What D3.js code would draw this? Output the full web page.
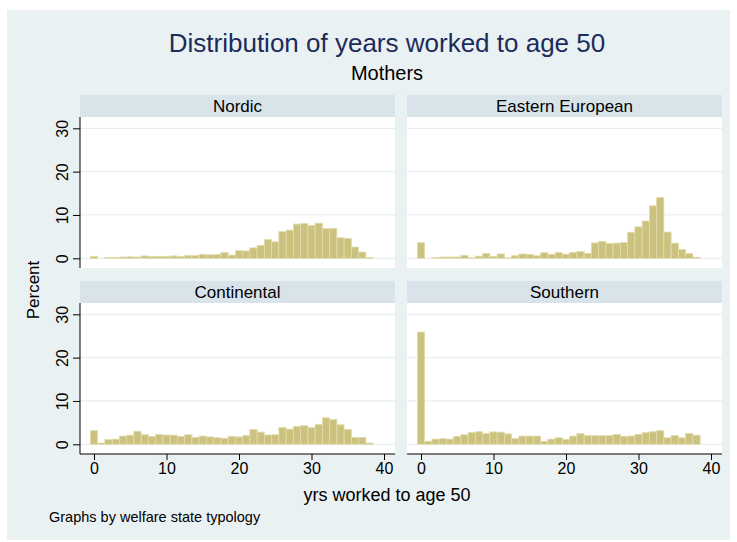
<!DOCTYPE html>
<html lang="en">
  <head>
    <meta charset="UTF-8" />
    <title>Distribution of years worked to age 50</title>
    <script src="https://cdn.jsdelivr.net/npm/d3@7"></script>
    <style>
      body { margin: 0; background: #ffffff; }
      text { font-family: "Liberation Sans", Arial, sans-serif; }
    </style>
  </head>

  <body>
    <script>

      // years worked to age 50 (one bar per year)
      var years = [0, 1, 2, 3, 4, 5, 6, 7, 8, 9, 10, 11, 12, 13, 14, 15, 16, 17, 18, 19,
                   20, 21, 22, 23, 24, 25, 26, 27, 28, 29, 30, 31, 32, 33, 34, 35, 36, 37, 38];

      // percent of mothers
      var nordic = [0.45, 0, 0.15, 0.2, 0.3, 0.35, 0.3, 0.55, 0.45, 0.45, 0.45, 0.55, 0.4, 0.65, 0.65, 0.9, 0.8, 0.9, 1.35, 0.75,
                    1.75, 1.7, 2.4, 3.0, 4.3, 3.8, 6.15, 6.5, 7.9, 8.0, 7.55, 8.1, 6.85, 6.85, 4.75, 4.6, 2.6, 1.45, 0.2];
      var eastern = [3.6, 0, 0.15, 0.3, 0.3, 0.3, 0.7, 0.1, 0.5, 1.1, 0.4, 1.0, 0.1, 0.6, 1.0, 0.9, 0.6, 1.3, 0.9, 1.3,
                     0.95, 1.35, 1.55, 1.15, 3.55, 3.9, 3.45, 3.5, 3.65, 6.0, 7.25, 8.6, 12.1, 14.0, 6.05, 3.5, 2.05, 1.1, 0.25];
      var continental = [3.15, 0.3, 1.1, 1.2, 1.9, 2.1, 3.0, 2.2, 1.8, 2.3, 2.15, 2.1, 1.8, 2.2, 1.6, 1.9, 1.7, 1.5, 1.4, 1.85,
                         1.7, 2.0, 3.4, 2.8, 2.15, 2.2, 3.9, 3.5, 4.1, 4.3, 3.9, 4.6, 6.1, 5.7, 4.5, 3.4, 1.6, 1.6, 0.3];
      var southern = [25.9, 0.7, 1.2, 1.3, 1.2, 1.8, 2.2, 2.7, 2.9, 2.5, 2.85, 2.8, 2.4, 1.3, 1.9, 1.9, 1.9, 0.7, 1.2, 1.5,
                      1.15, 1.9, 2.5, 2.0, 2.0, 2.0, 2.0, 2.3, 1.85, 1.9, 2.3, 2.7, 2.9, 3.15, 1.5, 2.0, 1.5, 2.5, 2.1];

      var groups = ["Nordic", "Eastern European", "Continental", "Southern"];
      var series = [nordic, eastern, continental, southern];

      var xTicks = [0, 10, 20, 30, 40];
      var yTicks = [0, 10, 20, 30];

      var w = 737,
          h = 542;

      // panel layout
      var colLeft = [80, 407],
          rowTop = [95, 281],
          panelW = 315,
          stripH = 22,
          plotH = 151;

      var barFill = "#cbc27f",
          barLine = "#e2dcab",
          gridCol = "#e7eff1";

      var svg = d3.select("body").append("svg")
         .attr("width", w)
         .attr("height", h);

      svg.append("rect")
         .attr("x", 7)
         .attr("y", 10)
         .attr("width", 723)
         .attr("height", 530)
         .attr("fill", "#eaf1f3");

      groups.forEach(function(name, i) {
        var col = i % 2,
            row = Math.floor(i / 2);
        var left = colLeft[col],
            top = rowTop[row],
            plotTop = top + stripH;

        var xScale = d3.scaleLinear()
                       .domain([0, 40])
                       .range([left + 14, left + 304]);
        var yScale = d3.scaleLinear()
                       .domain([0, 30])
                       .range([plotTop + 141.3, plotTop + 11.3]);

        // strip
        svg.append("rect")
           .attr("x", left)
           .attr("y", top)
           .attr("width", panelW)
           .attr("height", stripH)
           .attr("fill", "#d8e4ea");
        svg.append("text")
           .attr("x", left + panelW / 2)
           .attr("y", top + 17)
           .attr("text-anchor", "middle")
           .attr("font-size", 17)
           .text(name);

        // plot region
        svg.append("rect")
           .attr("x", left)
           .attr("y", plotTop)
           .attr("width", panelW)
           .attr("height", plotH)
           .attr("fill", "#ffffff");

        svg.append("g")
           .selectAll("line")
           .data(yTicks)
           .enter()
           .append("line")
           .attr("x1", left)
           .attr("x2", left + panelW)
           .attr("y1", function(d) { return yScale(d); })
           .attr("y2", function(d) { return yScale(d); })
           .attr("stroke", gridCol)
           .attr("stroke-width", 1.2);

        var data = years.map(function(y, k) { return { yr: y, pct: series[i][k] }; })
                        .filter(function(d) { return d.pct > 0; });

        svg.append("g")
           .selectAll("rect")
           .data(data)
           .enter()
           .append("rect")
           .attr("x", function(d) { return xScale(d.yr - 0.5); })
           .attr("y", function(d) { return yScale(d.pct); })
           .attr("width", function(d) { return xScale(d.yr + 0.5) - xScale(d.yr - 0.5); })
           .attr("height", function(d) { return yScale(0) - yScale(d.pct); })
           .attr("fill", barFill)
           .attr("stroke", barLine)
           .attr("stroke-width", 0.8);

        // y axis on the left column
        if (col == 0) {
          var yAxis = d3.axisLeft(yScale)
                        .tickValues(yTicks)
                        .tickSize(7)
                        .tickSizeOuter(0);
          var gy = svg.append("g")
             .attr("transform", "translate(" + left + ",0)")
             .call(yAxis);
          gy.select(".domain").remove();
          gy.selectAll("text")
            .attr("x", 0)
            .attr("y", -12)
            .attr("dy", null)
            .attr("text-anchor", "middle")
            .attr("transform", "rotate(-90)")
            .attr("font-size", 16)
            .attr("font-family", null)
            .attr("fill", "#000");
          svg.append("line")
             .attr("x1", left)
             .attr("x2", left)
             .attr("y1", plotTop)
             .attr("y2", plotTop + plotH)
             .attr("stroke", "#000");
        }

        // x axis on the bottom row
        if (row == 1) {
          var xAxis = d3.axisBottom(xScale)
                        .tickValues(xTicks)
                        .tickSize(6)
                        .tickPadding(3)
                        .tickSizeOuter(0);
          var gx = svg.append("g")
             .attr("transform", "translate(0," + (plotTop + plotH) + ")")
             .call(xAxis);
          gx.select(".domain").remove();
          gx.selectAll("text")
            .attr("font-size", 16)
            .attr("font-family", null)
            .attr("fill", "#000");
          svg.append("line")
             .attr("x1", left)
             .attr("x2", left + panelW)
             .attr("y1", plotTop + plotH)
             .attr("y2", plotTop + plotH)
             .attr("stroke", "#000");
        }
      });

      svg.append("text")
         .attr("x", 387)
         .attr("y", 52)
         .attr("text-anchor", "middle")
         .attr("font-size", 26)
         .attr("fill", "#1b2c5c")
         .text("Distribution of years worked to age 50");
      svg.append("text")
         .attr("x", 387)
         .attr("y", 80)
         .attr("text-anchor", "middle")
         .attr("font-size", 20)
         .text("Mothers");
      svg.append("text")
         .attr("x", 387)
         .attr("y", 501)
         .attr("text-anchor", "middle")
         .attr("font-size", 18)
         .text("yrs worked to age 50");
      svg.append("text")
         .attr("transform", "translate(39,290)rotate(-90)")
         .attr("text-anchor", "middle")
         .attr("font-size", 17)
         .text("Percent");
      svg.append("text")
         .attr("x", 49)
         .attr("y", 522)
         .attr("font-size", 14.5)
         .text("Graphs by welfare state typology");

    </script>
  </body>
</html>
